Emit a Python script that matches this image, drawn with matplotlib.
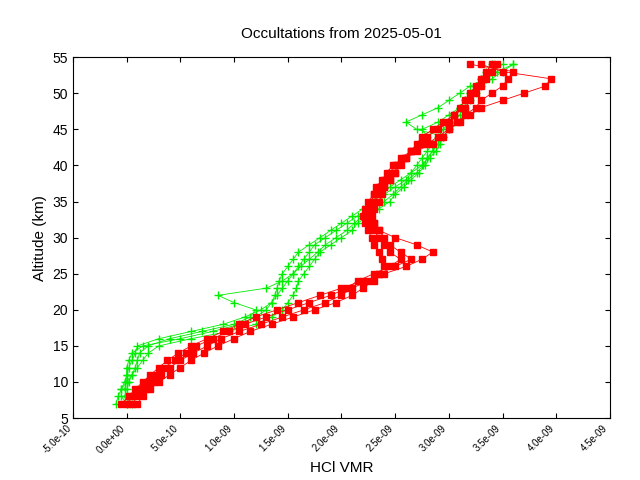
import matplotlib
matplotlib.use("Agg")
import matplotlib.pyplot as plt
import numpy as np
from matplotlib.ticker import FormatStrFormatter

plt.rcParams["font.family"] = "Liberation Sans"

altitude = list(range(7, 55))  # km
scale = 1e-9

red_profiles = [
    [0.00,0.05,0.12,0.20,0.28,0.35,0.45,0.55, 0.65,0.80,0.95,1.10,1.30,1.50,1.70,1.90, 2.05,2.15,2.30,2.45,2.55,2.45,2.40,2.35, 2.30,2.28,2.25,2.25,2.28,2.30,2.35,2.40, 2.45,2.50,2.55,2.65,2.75,2.80,2.90,3.00, 3.05,3.15,3.20,3.25,3.30,3.35,3.40,3.45],
    [-0.05,0.02,0.08,0.15,0.22,0.30,0.38,0.48, 0.60,0.75,0.90,1.05,1.20,1.40,1.60,1.80, 2.00,2.20,2.40,2.60,2.75,2.85,2.70,2.50, 2.35,2.30,2.28,2.22,2.25,2.30,2.32,2.38, 2.42,2.48,2.60,2.70,2.85,2.95,3.00,3.10, 3.20,3.30,3.50,3.70,3.90,3.95,3.50,3.30],
    [0.10,0.15,0.22,0.30,0.40,0.50,0.60,0.72, 0.85,1.00,1.15,1.35,1.55,1.75,1.95,2.10, 2.20,2.30,2.35,2.40,2.38,2.35,2.30,2.28, 2.25,2.22,2.20,2.25,2.30,2.35,2.40,2.45, 2.50,2.55,2.60,2.65,2.70,2.75,2.85,2.95, 3.05,3.10,3.15,3.20,3.25,3.30,3.35,3.40],
    [0.05,0.10,0.18,0.25,0.32,0.40,0.50,0.62, 0.75,0.88,1.05,1.25,1.45,1.65,1.85,2.00, 2.10,2.25,2.35,2.50,2.65,2.55,2.45,2.40, 2.35,2.30,2.25,2.30,2.35,2.38,2.40,2.45, 2.50,2.52,2.58,2.65,2.80,2.90,3.00,3.08, 3.15,3.25,3.30,3.40,3.50,3.55,3.60,3.20],
]
green_profiles = [
    [0.00,-0.05,-0.05,0.00,0.00,0.02,0.05,0.08, 0.10,0.30,0.60,0.90,1.10,1.25,1.35,1.40, 1.45,1.50,1.55,1.60,1.65,1.70,1.75,1.85, 1.95,2.05,2.15,2.25,2.35,2.40,2.50,2.60, 2.65,2.70,2.75,2.80,2.85,2.90,2.95,3.00, 3.05,3.10,3.15,3.20,3.25,3.30,3.40,3.50],
    [-0.10,-0.08,-0.05,-0.02,0.00,0.00,0.02,0.05, 0.15,0.50,0.80,1.05,1.20,1.30,1.35,1.38, 1.40,1.42,1.45,1.50,1.55,1.60,1.70,1.80, 1.90,2.00,2.10,2.20,2.30,2.38,2.45,2.55, 2.65,2.75,2.80,2.85,2.85,2.80,2.75,2.90, 3.00,3.10,3.15,3.20,3.25,3.30,3.35,3.40],
    [0.05,0.00,-0.02,0.00,0.05,0.10,0.15,0.20, 0.30,0.60,0.95,1.20,1.35,1.45,1.50,1.55, 1.58,1.60,1.65,1.70,1.75,1.80,1.90,2.00, 2.10,2.15,2.25,2.35,2.45,2.50,2.58,2.65, 2.72,2.78,2.82,2.88,2.92,2.95,3.00,3.05, 3.10,3.15,3.20,3.25,3.30,3.40,3.50,3.60],
    [0.00,-0.02,0.00,0.02,0.05,0.08,0.10,0.12, 0.20,0.40,0.70,1.00,1.15,1.20,1.00,0.85, 1.30,1.45,1.55,1.62,1.70,1.78,1.85,1.95, 2.05,2.12,2.20,2.30,2.40,2.48,2.55,2.62, 2.70,2.76,2.80,2.85,2.90,2.95,2.70,2.60, 2.75,2.90,3.00,3.10,3.20,3.35,3.45,3.60],
]

fig = plt.figure(figsize=(6.4, 4.8), dpi=100)
ax = fig.add_axes([0.114, 0.129, 0.839, 0.752])
for p in green_profiles:
    ax.plot(np.array(p) * scale, altitude, color="#00ee00", lw=0.6, marker="+", ms=6, mew=1)
for p in red_profiles:
    ax.plot(np.array(p) * scale, altitude, color="#ff0000", lw=0.6, marker="s", ms=5)

ax.set_xlim(-5e-10, 4.5e-9)
ax.set_ylim(5, 55)
ax.set_xticks(np.arange(-5e-10, 4.51e-9, 5e-10))
ax.set_yticks(range(5, 56, 5))
ax.xaxis.set_major_formatter(FormatStrFormatter("%.1e"))
for lab in ax.get_xticklabels():
    lab.set_rotation(45)
    lab.set_fontsize(7)
    lab.set_ha("right")
ax.tick_params(axis="y", labelsize=10)
ax.tick_params(direction="in", top=True, right=True)
ax.set_xlabel("HCl VMR", fontsize=11)
ax.set_ylabel("Altitude (km)", fontsize=11)
ax.set_title("Occultations from 2025-05-01", fontsize=11, pad=14)
fig.savefig("out.png", dpi=100)
